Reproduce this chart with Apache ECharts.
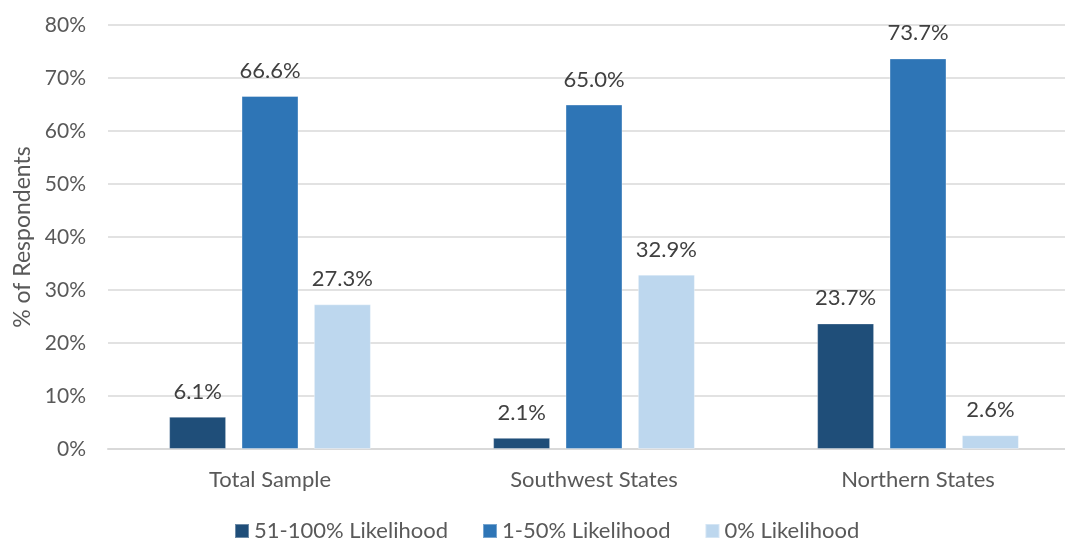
<!DOCTYPE html>
<html>
<head>
<meta charset="utf-8">
<script src="https://cdn.jsdelivr.net/npm/echarts@6/dist/echarts.min.js"></script>
<style>
  html, body { margin: 0; padding: 0; background: #fff; }
  #chart { width: 1065px; height: 542px; }
</style>
</head>
<body>
<div id="chart"></div>
<script>
// Regions surveyed
const categories = ['Total Sample', 'Southwest States', 'Northern States'];

// Share of respondents (%) by likelihood band
const seriesNames = ['51-100% Likelihood', '1-50% Likelihood', '0% Likelihood'];
const high = [6.1, 2.1, 23.7];
const mid = [66.6, 65.0, 73.7];
const none = [27.3, 32.9, 2.6];

const colors = ['#1F4E79', '#2E75B6', '#BDD7EE'];
const font = 'Lato, "Open Sans", sans-serif';
const textColor = '#595959';

const chart = echarts.init(document.getElementById('chart'));

function barSeries(name, data, color) {
  return {
    name: name,
    type: 'bar',
    data: data,
    barWidth: 57,
    barGap: '27%',
    itemStyle: { color: color, borderColor: 'rgba(255,255,255,0.35)', borderWidth: 1 },
    label: {
      show: true,
      position: 'top',
      distance: 14,
      formatter: p => p.value.toFixed(1) + '%',
      color: '#404040',
      fontFamily: font,
      fontSize: 22
    }
  };
}

chart.setOption({
  backgroundColor: '#ffffff',
  animation: false,
  color: colors,
  grid: { left: 108, top: 25, width: 972, bottom: 93, outerBoundsMode: 'none' },
  legend: {
    bottom: -5,
    left: 229,
    itemWidth: 14,
    itemHeight: 14,
    itemGap: 34,
    icon: 'rect',
    textStyle: { color: textColor, fontFamily: font, fontSize: 22 },
    data: seriesNames
  },
  xAxis: {
    type: 'category',
    data: categories,
    axisTick: { show: false },
    axisLine: { lineStyle: { color: '#D9D9D9', width: 2 } },
    axisLabel: { color: textColor, fontFamily: font, fontSize: 22, margin: 20 }
  },
  yAxis: {
    type: 'value',
    min: 0,
    max: 80,
    interval: 10,
    name: '% of Respondents',
    nameLocation: 'middle',
    nameGap: 74,
    nameTextStyle: { color: textColor, fontFamily: font, fontSize: 23 },
    axisLine: { show: false },
    axisTick: { show: false },
    axisLabel: { color: textColor, fontFamily: font, fontSize: 21, margin: 22, formatter: '{value}%' },
    splitLine: { lineStyle: { color: '#D9D9D9', width: 1.5 } }
  },
  series: [
    barSeries(seriesNames[0], high, colors[0]),
    barSeries(seriesNames[1], mid, colors[1]),
    barSeries(seriesNames[2], none, colors[2])
  ]
});
</script>
</body>
</html>
